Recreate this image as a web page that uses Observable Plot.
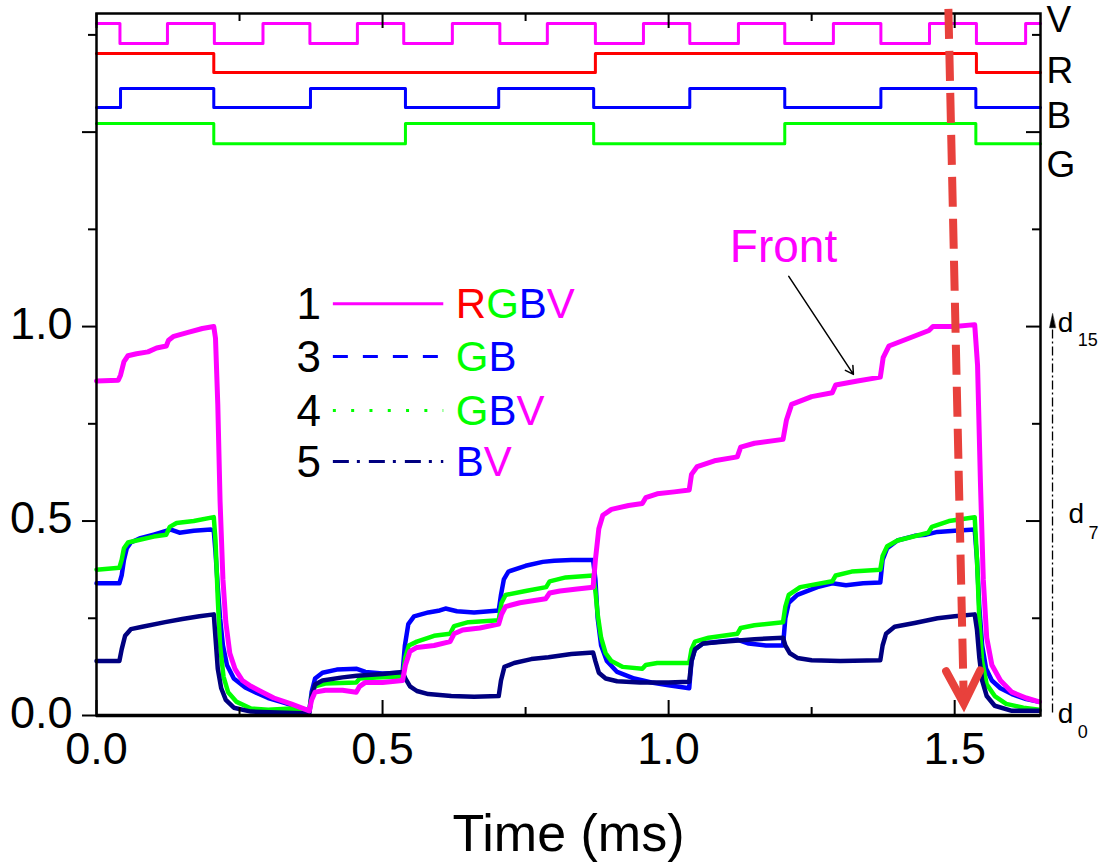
<!DOCTYPE html>
<html><head><meta charset="utf-8">
<script src="https://cdn.jsdelivr.net/npm/d3@7"></script>
<script src="https://cdn.jsdelivr.net/npm/@observablehq/plot@0.6"></script>
<style>body{margin:0;background:#fff;} #chart{position:absolute;left:0;top:0;}</style>
</head><body><div id="chart"></div>
<script>
// ---------- data ----------
const xMajorTicks = [0, 0.5, 1.0, 1.5];
const xMinorTicks = [0.25, 0.75, 1.25];
const yMajorTicks = [0, 0.5, 1.0, 1.5];
const yMinorTicks = [0.25, 0.75, 1.25, 1.75];
const xTickLabels = [0, 0.5, 1.0, 1.5];
const yTickLabels = [0, 0.5, 1.0];

// drive signals: [time (ms), state]
const signalNames = ["V", "R", "B", "G"];
const signalColors = ["#ff00ff", "#ff0000", "#0000ff", "#00ff00"];
const signalHigh = [1.779, 1.702, 1.612, 1.522];
const signalLow = [1.728, 1.653, 1.563, 1.470];
const signalLabelY = [1.787, 1.658, 1.540, 1.414];
const signalV = [[0,1],[0.041,0],[0.124,1],[0.206,0],[0.291,1],[0.373,0],[0.456,1],[0.537,0],[0.622,1],[0.705,0],[0.788,1],[0.872,0],[0.956,1],[1.037,0],[1.122,1],[1.203,0],[1.288,1],[1.371,0],[1.456,1],[1.538,0],[1.624,1],[1.65,1]];
const signalR = [[0,1],[0.205,0],[0.872,1],[1.538,0],[1.65,0]];
const signalB = [[0,0],[0.042,1],[0.205,0],[0.374,1],[0.540,0],[0.703,1],[0.869,0],[1.037,1],[1.203,0],[1.371,1],[1.537,0],[1.65,0]];
const signalG = [[0,1],[0.205,0],[0.540,1],[0.869,0],[1.203,1],[1.537,0],[1.65,0]];

// responses: [time (ms), normalized value]
const curve1 = [[0,0.86],[0.038,0.862],[0.042,0.875],[0.048,0.91],[0.055,0.925],[0.07,0.93],[0.09,0.935],[0.105,0.945],[0.122,0.95],[0.126,0.965],[0.135,0.975],[0.16,0.985],[0.185,0.995],[0.205,1.0],[0.208,0.97],[0.212,0.8],[0.216,0.55],[0.221,0.35],[0.226,0.24],[0.233,0.16],[0.242,0.12],[0.255,0.09],[0.27,0.075],[0.29,0.06],[0.31,0.045],[0.34,0.03],[0.372,0.012],[0.376,0.04],[0.382,0.06],[0.40,0.065],[0.43,0.065],[0.454,0.06],[0.46,0.075],[0.47,0.085],[0.50,0.085],[0.535,0.09],[0.54,0.13],[0.548,0.165],[0.56,0.175],[0.59,0.18],[0.618,0.19],[0.625,0.21],[0.64,0.22],[0.67,0.225],[0.703,0.235],[0.708,0.26],[0.715,0.28],[0.74,0.29],[0.785,0.30],[0.792,0.315],[0.81,0.32],[0.84,0.325],[0.868,0.33],[0.872,0.40],[0.878,0.48],[0.885,0.515],[0.90,0.53],[0.93,0.54],[0.954,0.545],[0.96,0.56],[0.98,0.57],[1.01,0.575],[1.036,0.58],[1.04,0.62],[1.05,0.64],[1.08,0.655],[1.12,0.665],[1.126,0.69],[1.15,0.70],[1.2,0.71],[1.206,0.76],[1.215,0.80],[1.25,0.82],[1.286,0.83],[1.292,0.85],[1.33,0.86],[1.37,0.87],[1.375,0.92],[1.385,0.95],[1.42,0.97],[1.455,0.99],[1.462,1.0],[1.5,1.0],[1.535,1.005],[1.54,0.9],[1.545,0.6],[1.55,0.35],[1.556,0.2],[1.565,0.13],[1.58,0.09],[1.6,0.06],[1.625,0.045],[1.648,0.035]];
const curve3 = [[0,0.34],[0.04,0.34],[0.044,0.36],[0.048,0.40],[0.053,0.43],[0.06,0.445],[0.075,0.455],[0.1,0.465],[0.123,0.475],[0.13,0.478],[0.145,0.47],[0.17,0.475],[0.2,0.478],[0.205,0.475],[0.208,0.42],[0.212,0.33],[0.216,0.25],[0.221,0.18],[0.228,0.13],[0.24,0.095],[0.26,0.072],[0.28,0.058],[0.3,0.045],[0.33,0.032],[0.372,0.012],[0.376,0.06],[0.382,0.095],[0.395,0.11],[0.42,0.118],[0.455,0.12],[0.47,0.112],[0.5,0.108],[0.535,0.11],[0.539,0.18],[0.545,0.235],[0.555,0.255],[0.58,0.265],[0.6,0.27],[0.61,0.275],[0.63,0.268],[0.66,0.265],[0.703,0.27],[0.707,0.31],[0.712,0.35],[0.72,0.37],[0.75,0.385],[0.78,0.395],[0.8,0.398],[0.83,0.40],[0.868,0.40],[0.872,0.35],[0.876,0.25],[0.882,0.18],[0.892,0.14],[0.91,0.112],[0.94,0.095],[0.97,0.085],[1.0,0.078],[1.036,0.07],[1.04,0.14],[1.046,0.17],[1.06,0.185],[1.09,0.19],[1.12,0.195],[1.14,0.185],[1.17,0.18],[1.2,0.18],[1.204,0.25],[1.21,0.29],[1.225,0.31],[1.26,0.33],[1.286,0.34],[1.31,0.335],[1.34,0.34],[1.37,0.342],[1.374,0.40],[1.382,0.43],[1.4,0.45],[1.43,0.462],[1.45,0.465],[1.47,0.472],[1.5,0.475],[1.535,0.478],[1.539,0.40],[1.543,0.28],[1.548,0.18],[1.555,0.12],[1.565,0.09],[1.58,0.07],[1.6,0.055],[1.625,0.042],[1.648,0.035]];
const curve4 = [[0,0.375],[0.04,0.38],[0.044,0.40],[0.048,0.43],[0.055,0.445],[0.07,0.45],[0.1,0.46],[0.122,0.465],[0.128,0.485],[0.14,0.495],[0.17,0.50],[0.205,0.51],[0.208,0.45],[0.212,0.30],[0.216,0.18],[0.222,0.10],[0.23,0.06],[0.245,0.035],[0.27,0.018],[0.3,0.015],[0.34,0.018],[0.372,0.015],[0.376,0.05],[0.382,0.075],[0.4,0.082],[0.454,0.085],[0.46,0.095],[0.49,0.098],[0.535,0.10],[0.54,0.15],[0.546,0.18],[0.56,0.19],[0.59,0.205],[0.618,0.21],[0.625,0.23],[0.65,0.24],[0.703,0.245],[0.708,0.29],[0.715,0.31],[0.75,0.32],[0.786,0.33],[0.792,0.345],[0.82,0.355],[0.868,0.36],[0.872,0.32],[0.876,0.26],[0.882,0.20],[0.89,0.16],[0.9,0.14],[0.92,0.125],[0.954,0.12],[0.96,0.13],[0.98,0.135],[1.036,0.135],[1.04,0.17],[1.046,0.19],[1.07,0.20],[1.12,0.21],[1.126,0.225],[1.15,0.232],[1.2,0.24],[1.204,0.28],[1.21,0.31],[1.23,0.33],[1.286,0.345],[1.292,0.36],[1.32,0.37],[1.37,0.375],[1.374,0.41],[1.382,0.435],[1.4,0.45],[1.454,0.47],[1.46,0.485],[1.49,0.50],[1.535,0.51],[1.539,0.40],[1.543,0.25],[1.548,0.14],[1.556,0.08],[1.57,0.05],[1.59,0.03],[1.62,0.02],[1.648,0.015]];
const curve5 = [[0,0.14],[0.04,0.14],[0.044,0.17],[0.05,0.205],[0.06,0.222],[0.08,0.228],[0.12,0.24],[0.15,0.248],[0.18,0.255],[0.205,0.26],[0.208,0.2],[0.212,0.12],[0.218,0.07],[0.226,0.04],[0.24,0.02],[0.27,0.01],[0.372,0.005],[0.376,0.05],[0.382,0.08],[0.395,0.09],[0.43,0.098],[0.455,0.102],[0.5,0.107],[0.535,0.112],[0.54,0.095],[0.548,0.075],[0.56,0.063],[0.58,0.055],[0.62,0.05],[0.66,0.048],[0.703,0.05],[0.707,0.09],[0.713,0.125],[0.73,0.135],[0.76,0.145],[0.79,0.15],[0.83,0.158],[0.868,0.162],[0.872,0.14],[0.878,0.11],[0.89,0.095],[0.91,0.088],[0.95,0.085],[1.0,0.085],[1.036,0.087],[1.04,0.14],[1.046,0.17],[1.06,0.185],[1.1,0.19],[1.15,0.196],[1.2,0.2],[1.204,0.18],[1.212,0.16],[1.225,0.148],[1.25,0.142],[1.3,0.14],[1.37,0.142],[1.374,0.18],[1.38,0.21],[1.395,0.228],[1.43,0.238],[1.47,0.25],[1.5,0.255],[1.535,0.26],[1.539,0.22],[1.543,0.15],[1.548,0.09],[1.556,0.05],[1.57,0.025],[1.6,0.012],[1.648,0.012]];

// legend
const legendNumbers = ["1", "3", "4", "5"];
const legendLabels = ["RGBV", "GB", "GBV", "BV"];
const legendColors = ["#ff00ff", "#0000ff", "#00ff00", "#000080"];
const legendDashes = [null, "15,15", "3,15.3", "16,8,3,9"];
const legendRowY = [1.059, 0.923, 0.784, 0.653];
const letterColors = {R: "#ff0000", G: "#00ff00", B: "#0000ff", V: "#ff00ff"};

// annotations
const frontLabel = {text: "Front", x: 1.107, y: 1.165};
const frontArrow = {x1: 1.210, y1: 1.129, x2: 1.323, y2: 0.877};
const redArrow = {x1: 1.489, y1: 1.817, x2: 1.516, y2: 0.03};
const levelArrow = {x: 1.671, y1: 0.008, y2: 1.0, tip: 1.033};
const levelLabels = [
  {d: 1.680, sub: "15", subX: 1.715, y: 0.985, subY: 0.951},
  {d: 1.699, sub: "7", subX: 1.734, y: 0.496, subY: 0.455},
  {d: 1.680, sub: "0", subX: 1.715, y: -0.02, subY: -0.059}
];

// ---------- layout ----------
const W = 1105, H = 865, mL = 96, mR = 65, mT = 13, mB = 150;
const innerW = W - mL - mR, innerH = H - mT - mB;
const xDomain = [0, 1.65], yDomain = [0, 1.805];

// ---------- build tables ----------
const signalEdges = [signalV, signalR, signalB, signalG];
const signalRows = signalEdges.flatMap((edges, i) =>
  edges.map(([t, s]) => ({t, v: s ? signalHigh[i] : signalLow[i], name: signalNames[i], color: signalColors[i]})));
const curves = [
  {id: "3", data: curve3, color: "#0000ff", w: 4.5},
  {id: "4", data: curve4, color: "#00ff00", w: 4.5},
  {id: "5", data: curve5, color: "#000080", w: 4.5},
  {id: "1", data: curve1, color: "#ff00ff", w: 5}
];
const legendRows = legendNumbers.map((n, i) => ({n, label: legendLabels[i], y: legendRowY[i], color: legendColors[i], dash: legendDashes[i]}));

const pxX = innerW / (xDomain[1] - xDomain[0]);
const pxY = innerH / (yDomain[1] - yDomain[0]);
const redAngle = 180 - Math.atan2((redArrow.x2 - redArrow.x1) * pxX, (redArrow.y1 - redArrow.y2) * pxY) * 180 / Math.PI;

const chevron = {draw(ctx) { ctx.moveTo(-17, 33); ctx.lineTo(0, 0); ctx.lineTo(17, 33); }};
const smallHead = {draw(ctx) { ctx.moveTo(0, 0); ctx.lineTo(-3, 14); ctx.lineTo(3, 14); ctx.closePath(); }};

const marks = [
  // drive signals
  Plot.line(signalRows, {x: "t", y: "v", z: "name", stroke: "color", curve: "step-after", strokeWidth: 3}),
  // response curves
  ...curves.map(c => Plot.line(c.data, {x: d => d[0], y: d => d[1], stroke: c.color, strokeWidth: c.w, strokeLinejoin: "round"})),
  // frame & ticks
  Plot.frame({stroke: "black", strokeWidth: 2.5}),
  Plot.ruleY([0], {stroke: "black", strokeWidth: 3.5}),
  Plot.ruleX(xMajorTicks, {x: d => d, insetTop: innerH - 15, strokeWidth: 2}),
  Plot.ruleX(xMinorTicks, {x: d => d, insetTop: innerH - 8, strokeWidth: 2}),
  Plot.ruleX(xMajorTicks, {x: d => d, insetBottom: innerH - 15, strokeWidth: 2}),
  Plot.ruleX(xMinorTicks, {x: d => d, insetBottom: innerH - 8, strokeWidth: 2}),
  Plot.ruleY(yMajorTicks, {y: d => d, insetLeft: -14, insetRight: innerW, strokeWidth: 2}),
  Plot.ruleY(yMinorTicks, {y: d => d, insetLeft: -8, insetRight: innerW, strokeWidth: 2}),
  Plot.ruleY(yMajorTicks, {y: d => d, insetLeft: innerW - 14, strokeWidth: 2}),
  Plot.ruleY(yMinorTicks, {y: d => d, insetLeft: innerW - 8, strokeWidth: 2}),
  // tick labels
  Plot.axisX(xTickLabels, {tickSize: 0, tickPadding: 17, tickFormat: d3.format(".1f"), fontSize: 45, label: null}),
  Plot.axisY(yTickLabels, {tickSize: 0, tickPadding: 24, tickFormat: d3.format(".1f"), fontSize: 45, label: null, dy: -2}),
  Plot.text(["Time (ms)"], {frameAnchor: "bottom", dy: 135, lineAnchor: "bottom", fontSize: 52}),
  // signal labels
  Plot.text(signalNames, {x: xDomain[1], y: (d, i) => signalLabelY[i], text: d => d, dx: 6, textAnchor: "start", fontSize: 37}),
  // legend
  Plot.text(legendRows, {x: 0.371, y: "y", text: "n", fontSize: 44, dy: 1}),
  ...legendRows.map(r => Plot.ruleY([r], {x1: 0.414, x2: 0.607, y: "y", stroke: r.color, strokeWidth: 3, strokeDasharray: r.dash})),
  Plot.text(legendRows, {x: 0.628, y: "y", text: "label", textAnchor: "start", fontSize: 42, dy: 1}),
  // Front annotation
  Plot.text([frontLabel], {x: "x", y: "y", text: "text", textAnchor: "start", lineAnchor: "bottom", fontSize: 46, fill: "#ff00ff"}),
  Plot.arrow([frontArrow], {x1: "x1", y1: "y1", x2: "x2", y2: "y2", stroke: "black", strokeWidth: 1.5, headLength: 9}),
  // level bar d0..d15
  Plot.link([levelArrow], {x1: "x", x2: "x", y1: "y1", y2: "y2", stroke: "black", strokeWidth: 1.3, strokeDasharray: "9,3,2,3"}),
  Plot.vector([levelArrow], {x: "x", y: "tip", length: 14, rotate: 0, anchor: "start", shape: smallHead, fill: "black", stroke: "black", strokeWidth: 0.5}),
  Plot.text(levelLabels, {x: "d", y: "y", text: () => "d", textAnchor: "start", lineAnchor: "bottom", fontSize: 28}),
  Plot.text(levelLabels, {x: "subX", y: "subY", text: "sub", textAnchor: "start", lineAnchor: "bottom", fontSize: 18}),
  // red dashed arrow
  Plot.link([redArrow], {x1: "x1", y1: "y1", x2: "x2", y2: "y2", stroke: "#e8413c", strokeWidth: 8, strokeDasharray: "30,12"}),
  Plot.vector([redArrow], {x: "x2", y: "y2", length: 33, rotate: redAngle, anchor: "start", shape: chevron, stroke: "#e8413c", strokeWidth: 8, strokeLinejoin: "miter"})
];

const svg = Plot.plot({
  width: W, height: H,
  marginLeft: mL, marginRight: mR, marginTop: mT, marginBottom: mB,
  x: {domain: xDomain, label: null},
  y: {domain: yDomain, label: null},
  style: {fontFamily: '"Liberation Sans", Arial, sans-serif', background: "white", overflow: "visible", color: "black"},
  marks
});

// colour each letter of the legend labels
d3.select(svg).selectAll("text").each(function () {
  const s = this.textContent;
  if (!legendLabels.includes(s)) return;
  const sel = d3.select(this);
  sel.text(null);
  for (const ch of s) sel.append("tspan").attr("fill", letterColors[ch]).text(ch);
});

document.getElementById("chart").appendChild(svg);
</script></body></html>
